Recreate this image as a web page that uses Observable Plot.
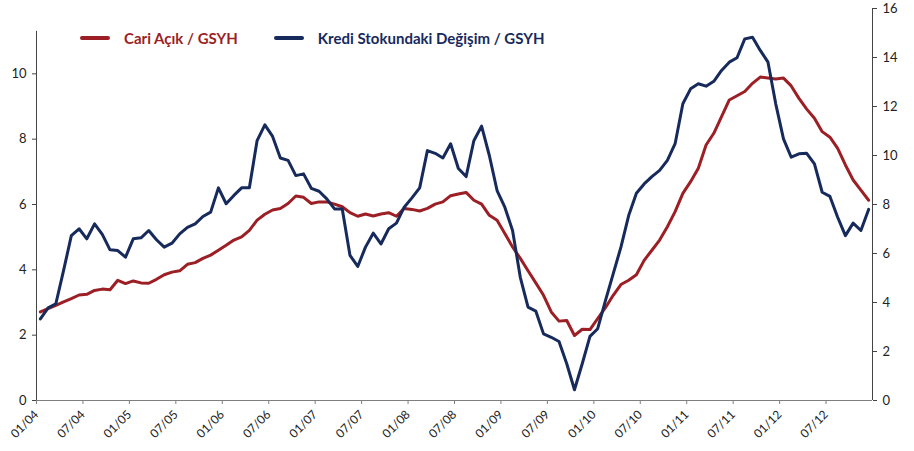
<!DOCTYPE html>
<html>
<head>
<meta charset="utf-8">
<script src="https://cdn.jsdelivr.net/npm/d3@7"></script>
<script src="https://cdn.jsdelivr.net/npm/@observablehq/plot@0.6"></script>
<style>
  html, body { margin: 0; padding: 0; background: #fff; }
  #wrap { position: relative; width: 914px; height: 451px; font-family: Lato, "Open Sans", sans-serif; }
  .legend { position: absolute; top: 29px; left: 80px; display: flex; align-items: center; font-weight: bold; font-size: 15px; }
  .legend .item { display: flex; align-items: center; margin-right: 36px; }
  .legend .sw { width: 30px; height: 4px; border-radius: 2px; margin-right: 14px; }
</style>
</head>
<body>
<div id="wrap"></div>
<script>
// Months 01/04 .. 12/12 (108 monthly points)
const startYear = 2004;
const monthCount = 108;
const months = d3.range(monthCount).map(i => {
  const m = (i % 12) + 1, y = startYear + Math.floor(i / 12);
  return String(m).padStart(2, "0") + "/" + String(y % 100).padStart(2, "0");
});

// Cari Açık / GSYH (left axis)
const cariAcik = [
  2.71, 2.81, 2.91, 3.02, 3.12, 3.23, 3.25, 3.37, 3.41, 3.39, 3.68, 3.58,
  3.66, 3.60, 3.59, 3.71, 3.85, 3.93, 3.97, 4.17, 4.22, 4.35, 4.45, 4.60,
  4.75, 4.91, 5.01, 5.21, 5.52, 5.70, 5.83, 5.88, 6.03, 6.26, 6.22, 6.03,
  6.08, 6.08, 6.01, 5.93, 5.75, 5.64, 5.71, 5.65, 5.71, 5.75, 5.64, 5.88,
  5.85, 5.80, 5.88, 6.01, 6.08, 6.27, 6.32, 6.37, 6.13, 6.01, 5.67, 5.52,
  5.11, 4.70, 4.35, 3.97, 3.60, 3.22, 2.71, 2.43, 2.45, 1.99, 2.18, 2.17,
  2.51, 2.84, 3.22, 3.55, 3.68, 3.85, 4.29, 4.60, 4.91, 5.32, 5.78, 6.34,
  6.70, 7.11, 7.82, 8.18, 8.69, 9.20, 9.33, 9.46, 9.71, 9.90, 9.87, 9.84,
  9.87, 9.63, 9.25, 8.92, 8.64, 8.23, 8.06, 7.72, 7.21, 6.75, 6.44, 6.13
];

// Kredi Stokundaki Değişim / GSYH (right axis)
const krediDegisim = [
  3.33, 3.78, 3.95, 5.31, 6.73, 7.01, 6.60, 7.21, 6.78, 6.15, 6.12, 5.85,
  6.60, 6.64, 6.94, 6.56, 6.26, 6.42, 6.80, 7.07, 7.21, 7.51, 7.69, 8.68,
  8.03, 8.37, 8.68, 8.68, 10.61, 11.25, 10.78, 9.90, 9.80, 9.18, 9.25, 8.66,
  8.54, 8.23, 7.82, 7.82, 5.92, 5.47, 6.26, 6.83, 6.39, 7.01, 7.24, 7.89,
  8.27, 8.68, 10.20, 10.09, 9.90, 10.48, 9.47, 9.14, 10.60, 11.20, 10.00, 8.57,
  7.89, 6.94, 5.03, 3.81, 3.65, 2.72, 2.58, 2.41, 1.50, 0.44, 1.50, 2.62,
  2.93, 4.08, 5.17, 6.26, 7.55, 8.46, 8.84, 9.14, 9.39, 9.80, 10.48, 12.11,
  12.72, 12.93, 12.83, 13.03, 13.47, 13.81, 13.99, 14.76, 14.83, 14.29, 13.81, 12.11,
  10.68, 9.93, 10.07, 10.09, 9.66, 8.50, 8.33, 7.48, 6.73, 7.24, 6.94, 7.80
];

const seriesNames = ["Cari Açık / GSYH", "Kredi Stokundaki Değişim / GSYH"];
const colors = ["#9b1f24", "#172a5c"];

const leftTicks = [0, 2, 4, 6, 8, 10];
const leftAxisTop = 11.3;
const rightTicks = [0, 2, 4, 6, 8, 10, 12, 14, 16];
const leftMax = 12, rightMax = 16;
const toRight = v => v * rightMax / leftMax;

const xTickIdx = d3.range(0, monthCount, 6);

const redData = cariAcik.map((v, i) => ({i, v: toRight(v)}));
const blueData = krediDegisim.map((v, i) => ({i, v}));

const axisColor = "#7f7f7f";

const chart = Plot.plot({
  width: 914,
  height: 451,
  marginLeft: 36,
  marginRight: 42,
  marginTop: 8,
  marginBottom: 51,
  style: { fontFamily: "Lato, 'Open Sans', sans-serif", fontSize: "13px", color: "#222", background: "#fff" },
  x: { domain: [-0.5, monthCount - 0.5], axis: null },
  y: { domain: [0, rightMax], axis: null },
  marks: [
    Plot.ruleY([0], { stroke: axisColor, strokeWidth: 1 }),
    Plot.ruleX([-0.5], { y1: 0, y2: toRight(leftAxisTop), stroke: "#444", strokeWidth: 1 }),
    Plot.ruleX([monthCount - 0.5], { y1: 0, y2: rightMax, stroke: "#444", strokeWidth: 1 }),
    Plot.axisY({ anchor: "left", ticks: leftTicks.map(toRight), tickFormat: d => String(Math.round(d * leftMax / rightMax)), tickSize: 4, tickPadding: 6, label: null, stroke: "#444" }),
    Plot.axisY({ anchor: "right", ticks: rightTicks, tickFormat: d => String(d), tickSize: 4, tickPadding: 6, label: null, stroke: "#444" }),
    Plot.axisX({ ticks: xTickIdx.map(i => i - 0.5), tickFormat: d => months[Math.round(d + 0.5)], tickSize: 4, tickPadding: 8, tickRotate: -45, label: null, stroke: axisColor, fontSize: 12 }),
    Plot.line(redData, { x: "i", y: "v", stroke: colors[0], strokeWidth: 3, strokeLinejoin: "round", curve: "linear" }),
    Plot.line(blueData, { x: "i", y: "v", stroke: colors[1], strokeWidth: 3, strokeLinejoin: "round", curve: "linear" })
  ]
});

const wrap = document.getElementById("wrap");
wrap.appendChild(chart);

const legend = document.createElement("div");
legend.className = "legend";
seriesNames.forEach((name, k) => {
  const item = document.createElement("div");
  item.className = "item";
  const sw = document.createElement("span");
  sw.className = "sw";
  sw.style.background = colors[k];
  const t = document.createElement("span");
  t.textContent = name;
  t.style.color = colors[k];
  item.appendChild(sw);
  item.appendChild(t);
  legend.appendChild(item);
});
wrap.appendChild(legend);
</script>
</body>
</html>
